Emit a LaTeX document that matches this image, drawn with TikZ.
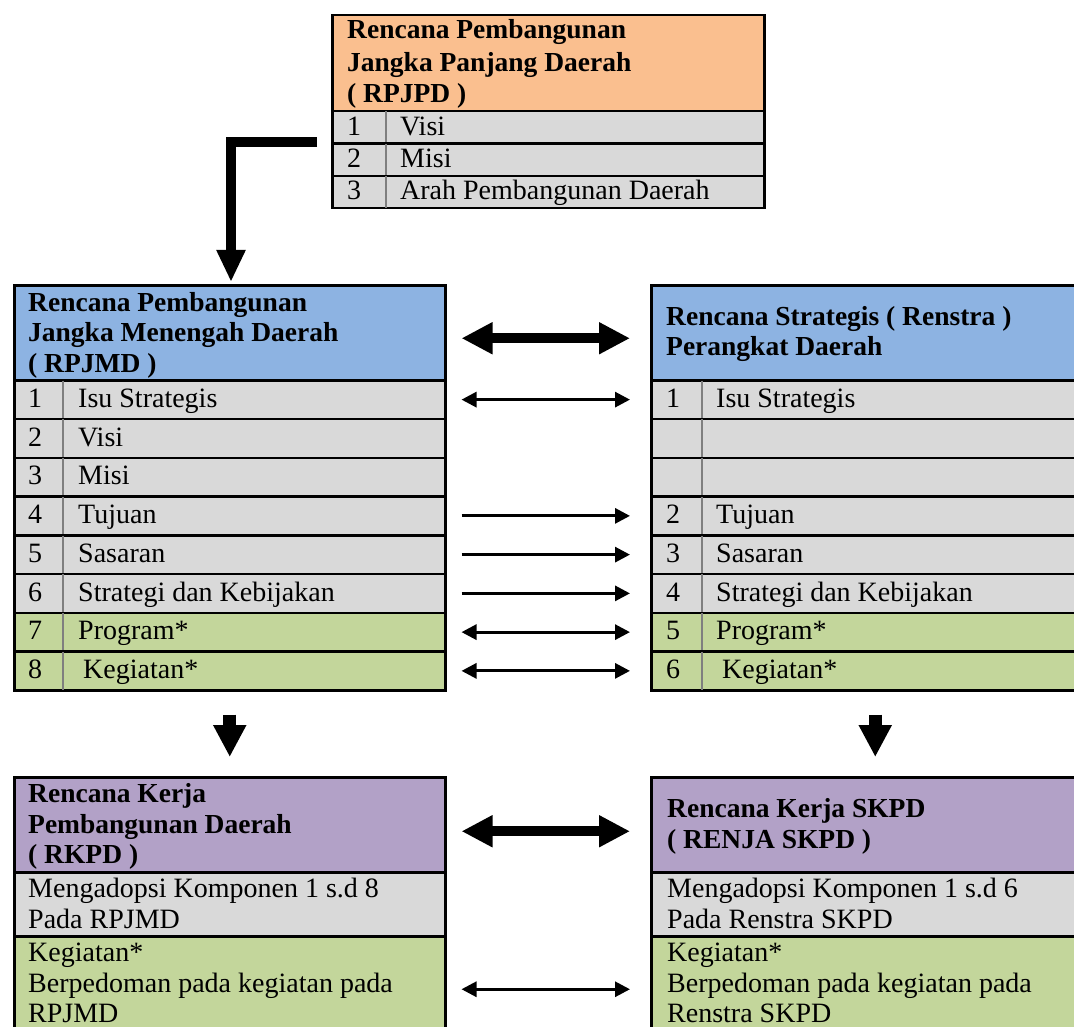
\documentclass[tikz,border=0pt]{standalone}
\usepackage{fontspec}
\setmainfont{Liberation Serif}
\usetikzlibrary{arrows.meta}
\definecolor{corange}{HTML}{FABF8F}
\definecolor{cblue}{HTML}{8DB3E2}
\definecolor{cgray}{HTML}{D9D9D9}
\definecolor{cgreen}{HTML}{C3D69B}
\definecolor{cpurple}{HTML}{B2A1C7}
\definecolor{csep}{HTML}{7F7F7F}
% box parameters
\def\bx{0}\def\bw{0pt}\def\bh{0pt}\def\bs{0pt}\def\bn{0pt}\def\bt{0pt}\def\bb{0pt}
\newcommand\rowcell[5]{%
  \node[cellbox, fill=#3, minimum width=\bw, minimum height=\bh] (#1) at (\bx,#2) {};
  \draw[sepline] ([xshift=\bs, yshift=-1.5pt]#1.north west) -- ([xshift=\bs, yshift=1.5pt]#1.south west);
  \node[txt] (#1-n) at ([xshift=\bn, yshift=-\bb]#1.north west) {#4};
  \node[txt] (#1-t) at ([xshift=\bt, yshift=-\bb]#1.north west) {#5};
}
\begin{document}
\begin{tikzpicture}[x=1pt,y=-1pt,
  cellbox/.style={draw=black, line width=2.5pt, inner sep=0pt, anchor=north west},
  sepline/.style={draw=csep, line width=2pt},
  txt/.style={font=\fontsize{28}{31}\selectfont, inner sep=0pt, anchor=base west},
  htxt/.style={font=\fontsize{27.5}{31}\selectfont\bfseries, inner sep=0pt, anchor=base west},
  bigdbl/.style={line width=10pt, {Triangle[length=31pt,width=30pt]}-{Triangle[length=31pt,width=30pt]}},
  thindbl/.style={line width=3pt, {Triangle[length=15pt,width=15pt]}-{Triangle[length=15pt,width=15pt]}},
  thinone/.style={line width=3pt, -{Triangle[length=15pt,width=15pt]}},
  downarr/.style={line width=13pt, -{Triangle[length=32pt,width=31pt]}},
  elbowarr/.style={line width=10pt, -{Triangle[length=32pt,width=27pt]}},
]
\useasboundingbox (0,0) rectangle (1074,1027);
\clip (0,0) rectangle (1074,1027);
\fill[white] (0,0) rectangle (1074,1027);

% ---------- top box RPJPD ----------
\node[cellbox, fill=corange, minimum width=432pt, minimum height=96pt] (Thdr) at (331,14) {};
\node[htxt] (Th1) at (347,39) {Rencana Pembangunan};
\node[htxt] (Th2) at (347,71.5) {Jangka Panjang Daerah};
\node[htxt] (Th3) at (347,103) {( RPJPD )};
\def\bx{331}\def\bw{432pt}\def\bh{32.3pt}\def\bs{55pt}\def\bn{16pt}\def\bt{69pt}\def\bb{25.2pt}
\rowcell{T1}{110}{cgray}{1}{Visi}
\rowcell{T2}{142.3}{cgray}{2}{Misi}
\rowcell{T3}{174.6}{cgray}{3}{Arah Pembangunan Daerah}

% ---------- left box RPJMD ----------
\node[cellbox, fill=cblue, minimum width=431pt, minimum height=95pt] (Lhdr) at (13,284) {};
\node[htxt] (Lh1) at (28,311) {Rencana Pembangunan};
\node[htxt] (Lh2) at (28,341) {Jangka Menengah Daerah};
\node[htxt] (Lh3) at (28,372) {( RPJMD )};
\def\bx{13}\def\bw{431pt}\def\bh{38.75pt}\def\bs{50pt}\def\bn{15pt}\def\bt{65pt}\def\bb{28.4pt}
\rowcell{L1}{379}{cgray}{1}{Isu Strategis}
\rowcell{L2}{417.75}{cgray}{2}{Visi}
\rowcell{L3}{456.5}{cgray}{3}{Misi}
\rowcell{L4}{495.25}{cgray}{4}{Tujuan}
\rowcell{L5}{534}{cgray}{5}{Sasaran}
\rowcell{L6}{572.75}{cgray}{6}{Strategi dan Kebijakan}
\rowcell{L7}{611.5}{cgreen}{7}{Program*}
\rowcell{L8}{650.25}{cgreen}{8}{\hspace{5pt}Kegiatan*}

% ---------- right box Renstra ----------
\node[cellbox, fill=cblue, minimum width=448pt, minimum height=95pt] (Rhdr) at (650,284) {};
\node[htxt] (Rh1) at (666,325) {Rencana Strategis ( Renstra )};
\node[htxt] (Rh2) at (666,355) {Perangkat Daerah};
\def\bx{650}\def\bw{448pt}\def\bs{52pt}\def\bn{16pt}\def\bt{66pt}
\rowcell{R1}{379}{cgray}{1}{Isu Strategis}
\rowcell{R2}{417.75}{cgray}{}{}
\rowcell{R3}{456.5}{cgray}{}{}
\rowcell{R4}{495.25}{cgray}{2}{Tujuan}
\rowcell{R5}{534}{cgray}{3}{Sasaran}
\rowcell{R6}{572.75}{cgray}{4}{Strategi dan Kebijakan}
\rowcell{R7}{611.5}{cgreen}{5}{Program*}
\rowcell{R8}{650.25}{cgreen}{6}{\hspace{6pt}Kegiatan*}

% ---------- bottom left RKPD ----------
\node[cellbox, fill=cpurple, minimum width=431pt, minimum height=95pt] (Bhdr) at (13,776) {};
\node[htxt] (Bh1) at (28,802) {Rencana Kerja};
\node[htxt] (Bh2) at (28,833) {Pembangunan Daerah};
\node[htxt] (Bh3) at (28,863) {( RKPD )};
\node[cellbox, fill=cgray, minimum width=431pt, minimum height=64pt] (Bgray) at (13,871) {};
\node[txt] (Bg1) at (28,897) {Mengadopsi Komponen 1 s.d 8};
\node[txt] (Bg2) at (28,928) {Pada RPJMD};
\node[cellbox, fill=cgreen, minimum width=431pt, minimum height=106pt] (Bgreen) at (13,935) {};
\node[txt] (Bk1) at (28,961) {Kegiatan*};
\node[txt] (Bk2) at (28,992) {Berpedoman pada kegiatan pada};
\node[txt] (Bk3) at (28,1022) {RPJMD};

% ---------- bottom right RENJA ----------
\node[cellbox, fill=cpurple, minimum width=448pt, minimum height=95pt] (Chdr) at (650,776) {};
\node[htxt] (Ch1) at (667,817) {Rencana Kerja SKPD};
\node[htxt] (Ch2) at (667,848) {( RENJA SKPD )};
\node[cellbox, fill=cgray, minimum width=448pt, minimum height=64pt] (Cgray) at (650,871) {};
\node[txt] (Cg1) at (667,897) {Mengadopsi Komponen 1 s.d 6};
\node[txt] (Cg2) at (667,928) {Pada Renstra SKPD};
\node[cellbox, fill=cgreen, minimum width=448pt, minimum height=106pt] (Cgreen) at (650,935) {};
\node[txt] (Ck1) at (667,961) {Kegiatan*};
\node[txt] (Ck2) at (667,992) {Berpedoman pada kegiatan pada};
\node[txt] (Ck3) at (667,1022) {Renstra SKPD};

% ---------- connectors ----------
\coordinate (es) at (317,142);
\draw[elbowarr, shorten >=2pt] (es) -| ([xshift=218pt]Lhdr.north west);

\draw[bigdbl, shorten <=15pt, shorten >=20pt] ([yshift=-5.5pt]Lhdr.east) -- ([yshift=-5.5pt]Rhdr.west);
\draw[thindbl, shorten <=15pt, shorten >=20pt] (L1.east) -- (R1.west);
\draw[thinone, shorten <=15pt, shorten >=20pt] (L4.east) -- (R4.west);
\draw[thinone, shorten <=15pt, shorten >=20pt] (L5.east) -- (R5.west);
\draw[thinone, shorten <=15pt, shorten >=20pt] (L6.east) -- (R6.west);
\draw[thindbl, shorten <=15pt, shorten >=20pt] (L7.east) -- (R7.west);
\draw[thindbl, shorten <=15pt, shorten >=20pt] (L8.east) -- (R8.west);

\draw[downarr, shorten <=23pt, shorten >=19pt] (L8.south) -- (Bhdr.north);
\draw[downarr, shorten <=23pt, shorten >=19pt] (R8.south) -- (Chdr.north);

\draw[bigdbl, shorten <=15pt, shorten >=20pt] ([yshift=-6.5pt]Bhdr.east) -- ([yshift=-6.5pt]Chdr.west);
\draw[thindbl, shorten <=15pt, shorten >=20pt] (Bgreen.east) -- (Cgreen.west);
\end{tikzpicture}
\end{document}
